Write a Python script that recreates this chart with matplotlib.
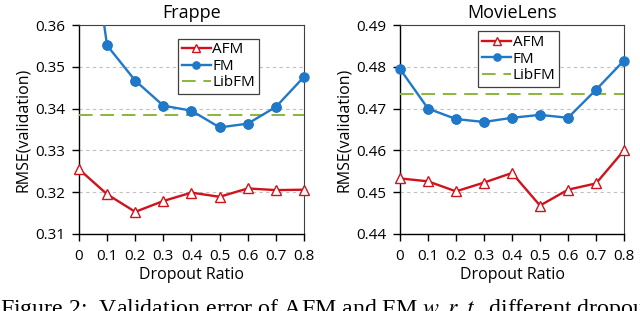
import matplotlib
matplotlib.use("Agg")
import matplotlib.pyplot as plt

dropout = [0, 0.1, 0.2, 0.3, 0.4, 0.5, 0.6, 0.7, 0.8]
xtick_labels = ["0", "0.1", "0.2", "0.3", "0.4", "0.5", "0.6", "0.7", "0.8"]

frappe_afm = [0.3255, 0.3195, 0.3153, 0.3179, 0.3199, 0.3189, 0.3209, 0.3205, 0.3206]
frappe_fm = [0.402, 0.3551, 0.3467, 0.3407, 0.3395, 0.3355, 0.3364, 0.3404, 0.3476]
frappe_libfm = 0.3385
frappe_yticks = [0.31, 0.32, 0.33, 0.34, 0.35, 0.36]

ml_afm = [0.4533, 0.4526, 0.4502, 0.4523, 0.4546, 0.4468, 0.4506, 0.4521, 0.4600]
ml_fm = [0.4795, 0.4700, 0.4675, 0.4668, 0.4678, 0.4685, 0.4678, 0.4745, 0.4815]
ml_libfm = 0.4735
ml_yticks = [0.44, 0.45, 0.46, 0.47, 0.48, 0.49]

titles = ["Frappe", "MovieLens"]
caption = r"Figure 2:  Validation error of AFM and FM $w.r.t.$ different dropout ratios"

plt.rcParams['font.family'] = ['Open Sans', 'DejaVu Sans']
plt.rcParams['mathtext.fontset'] = 'stix'

RED = "#d0121b"
BLUE = "#1f78c8"
GREEN = "#8cb43c"

fig = plt.figure(figsize=(6.4, 3.11), dpi=100)
axes = [fig.add_axes([0.1234, 0.2476, 0.3516, 0.672]),
        fig.add_axes([0.625, 0.2476, 0.350, 0.672])]

data = [(frappe_afm, frappe_fm, frappe_libfm, frappe_yticks),
        (ml_afm, ml_fm, ml_libfm, ml_yticks)]
legend_anchor = [(0.62, 0.935), (0.53, 0.97)]

for ax, (afm, fm, lib, yt), title, anc in zip(axes, data, titles, legend_anchor):
    ax.plot(dropout, afm, color=RED, lw=1.7, marker="^", ms=7,
            mfc="white", mec=RED, mew=1.0, label="AFM", zorder=4, clip_on=False)
    ax.plot(dropout, fm, color=BLUE, lw=1.7, marker="o", ms=6.5,
            mfc=BLUE, mec=BLUE, label="FM", zorder=4)
    ax.axhline(lib, color=GREEN, lw=1.4, ls=(0, (7, 4)), label="LibFM", zorder=3)
    ax.set_xlim(0, 0.8)
    ax.set_ylim(yt[0], yt[-1])
    ax.set_yticks(yt)
    ax.set_yticklabels(["%.2f" % v for v in yt])
    ax.set_xticks(dropout)
    ax.set_xticklabels(xtick_labels)
    for v in yt[1:-1]:
        ax.axhline(v, color="#c0c0c0", lw=0.8, ls=(0, (3, 3)), zorder=1)
    ax.tick_params(axis="both", direction="out", length=5, width=1.0,
                   labelsize=11, colors="black")
    ax.tick_params(axis="y", pad=5)
    ax.tick_params(axis="x", pad=6)
    for s in ["left", "bottom"]:
        ax.spines[s].set_color("black")
        ax.spines[s].set_linewidth(1.0)
    for s in ["top", "right"]:
        ax.spines[s].set_color("#404040")
        ax.spines[s].set_linewidth(0.8)
    ax.set_title(title, fontsize=13, pad=5)
    ax.set_xlabel("Dropout Ratio", fontsize=11.5, labelpad=2)
    ax.set_ylabel("RMSE(validation)", fontsize=11.5, labelpad=3)
    leg = ax.legend(loc="upper center", bbox_to_anchor=anc, fontsize=11,
                    handlelength=1.9, handletextpad=0.1, borderpad=0.25,
                    labelspacing=0.1, fancybox=False, framealpha=1,
                    edgecolor="#404040", markerscale=0.8, borderaxespad=0)
    leg.get_frame().set_linewidth(0.9)

# FM markers at the edges should not be cut: redraw unclipped for points inside the y-range
for ax, (afm, fm, lib, yt) in zip(axes, data):
    pts = [(x, y) for x, y in zip(dropout, fm) if yt[0] <= y <= yt[-1]]
    ax.plot([p[0] for p in pts], [p[1] for p in pts], ls="none", marker="o", ms=6.5,
            mfc=BLUE, mec=BLUE, zorder=5, clip_on=False)

fig.text(0.0, -0.014, caption, family="Liberation Serif", fontsize=17.2,
         ha="left", va="baseline")

fig.savefig("out.png", dpi=100)
